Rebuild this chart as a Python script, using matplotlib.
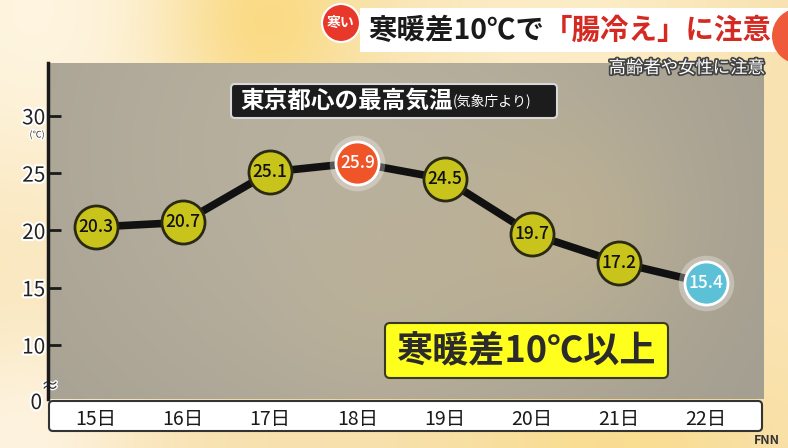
import matplotlib
matplotlib.use('Agg')
import matplotlib.pyplot as plt
import matplotlib.patheffects as pe
from matplotlib.patches import FancyBboxPatch, Circle, Rectangle
import numpy as np

plt.rcParams['font.family'] = ['Noto Sans CJK JP', 'DejaVu Sans']

# data
days = ['15日', '16日', '17日', '18日', '19日', '20日', '21日', '22日']
temps = [20.3, 20.7, 25.1, 25.9, 24.5, 19.7, 17.2, 15.4]
point_kind = ['mid', 'mid', 'mid', 'hot', 'mid', 'mid', 'mid', 'cold']
y_ticks = [10, 15, 20, 25, 30]

W, H = 788, 448
fig = plt.figure(figsize=(7.88, 4.48), dpi=100)

# background layer in pixel coords
bg = fig.add_axes([0, 0, 1, 1])
bg.set_xlim(0, W)
bg.set_ylim(H, 0)
bg.axis('off')


def soft_image(w, h, base, spots, x0=0, y0=0):
    yy, xx = np.mgrid[0:h, 0:w]
    xx = xx + x0
    yy = yy + y0
    img = np.ones((h, w, 3)) * np.array(base)
    for cx, cy, r, col, a in spots:
        m = a * np.exp(-((xx - cx) ** 2 + (yy - cy) ** 2) / (2.0 * r * r))
        img = img * (1 - m[..., None]) + np.array(col) * m[..., None]
    return np.clip(img, 0, 1)


back = soft_image(W, H, (0.97, 0.88, 0.68), [
    (40, 10, 160, (1.0, 0.97, 0.90), 0.9),
    (270, 20, 70, (0.98, 0.84, 0.45), 0.8),
    (560, 30, 120, (1.0, 0.95, 0.82), 0.7),
    (20, 440, 90, (1.0, 0.97, 0.92), 0.8),
    (620, 445, 110, (0.98, 0.86, 0.52), 0.7),
    (780, 300, 80, (0.99, 0.90, 0.72), 0.6),
])
bg.imshow(back, extent=[0, W, H, 0], aspect='auto', zorder=0)

# grey panel
pl, pr, pt, pb = 48, 764, 63, 399
panel = soft_image(pr - pl, pb - pt, (0.63, 0.61, 0.56), [
    (330, 150, 260, (0.73, 0.70, 0.63), 0.9),
    (560, 230, 90, (0.78, 0.72, 0.56), 0.5),
    (380, 300, 80, (0.76, 0.71, 0.58), 0.4),
], x0=pl, y0=pt)
bg.imshow(panel, extent=[pl, pr, pb, pt], aspect='auto', zorder=1)

# title banner
bg.add_patch(Rectangle((360, 8), 428, 44, fc='white', ec='none', zorder=2))
bg.add_patch(Circle((800, 36), 28, fc='#ee5a3a', ec='none', zorder=3))
bg.add_patch(Circle((341, 23), 19, fc='#e8382c', ec='white', lw=1.5, zorder=4))
bg.text(341, 23, '寒い', color='white', fontsize=10, fontweight='bold',
        ha='center', va='center', zorder=5)
t1 = bg.text(368, 31, '寒暖差10℃で', color='#1a1a1a', fontsize=20.5,
             fontweight='bold', ha='left', va='center', zorder=5)
bg.annotate('「腸冷え」に注意', xy=(1, 0.5), xycoords=t1, color='#d42a22',
            fontsize=20.5, fontweight='bold', ha='left', va='center', zorder=5)
bg.text(765, 68, '高齢者や女性に注意', color='white', fontsize=12.5,
        ha='right', va='center', zorder=5,
        path_effects=[pe.withStroke(linewidth=2.5, foreground='#444444')])

# main axes
ax = fig.add_axes([pl / W, 1 - pb / H, (pr - pl) / W, (pb - pt) / H])
ax.patch.set_alpha(0)
ax.set_xlim(-0.551, 7.666)
ax.set_ylim(5.29, 34.61)
for s in ['top', 'right', 'bottom']:
    ax.spines[s].set_visible(False)
ax.spines['left'].set_color('#1a1a1a')
ax.spines['left'].set_linewidth(2.5)
ax.set_yticks(y_ticks)
ax.set_yticklabels([str(v) for v in y_ticks])
ax.tick_params(axis='y', direction='in', length=9, width=2, color='#1a1a1a',
               pad=2, labelsize=15, labelcolor='#222222')
for lab in ax.get_yticklabels():
    lab.set_path_effects([pe.withStroke(linewidth=3, foreground='white')])
ax.set_xticks(range(len(days)))
ax.set_xticklabels(days)
ax.tick_params(axis='x', length=0, pad=7, labelsize=14, labelcolor='#1a1a1a')
for lab in ax.get_xticklabels():
    lab.set_zorder(10)

# white strip behind x labels
strip = FancyBboxPatch((49, 401), 713, 30, boxstyle='round,pad=0,rounding_size=4',
                       fc='white', ec='#333333', lw=1.5, zorder=6)
bg.add_patch(strip)

bg.text(42, 403, '0', color='#222222', fontsize=15, ha='right', va='center', zorder=7,
        path_effects=[pe.withStroke(linewidth=3, foreground='white')])
bg.text(50, 387, '≈', color='#333333', fontsize=13, ha='center', va='center', zorder=7,
        path_effects=[pe.withStroke(linewidth=2, foreground='white')])
bg.text(37, 135, '(℃)', color='#333333', fontsize=6.5, ha='center', va='center', zorder=7,
        path_effects=[pe.withStroke(linewidth=2, foreground='white')])

# header label
bg.add_patch(FancyBboxPatch((231, 84), 326, 34, boxstyle='round,pad=0,rounding_size=4',
                            fc='#1c1c1c', ec='#d8d8d8', lw=1.5, zorder=6))
h1 = bg.text(240, 101, '東京都心の最高気温', color='white', fontsize=17,
             fontweight='bold', ha='left', va='center', zorder=7)
bg.annotate('(気象庁より)', xy=(1, 0.5), xycoords=h1, color='white',
            fontsize=10, ha='left', va='center', zorder=7)

# yellow callout
bg.add_patch(FancyBboxPatch((385, 323), 283, 55, boxstyle='round,pad=0,rounding_size=5',
                            fc='#ffff1e', ec='#3a3a22', lw=1.5, zorder=6))
bg.text(526, 351, '寒暖差10℃以上', color='#2b2b2b', fontsize=26,
        fontweight='bold', ha='center', va='center', zorder=7)

bg.text(754, 440, 'FNN', color='#333333', fontsize=9, fontweight='bold',
        ha='left', va='center', zorder=7)

# line and points
xs = list(range(len(temps)))
ax.plot(xs, temps, color='#111111', lw=5.5, zorder=3, solid_capstyle='round')
styles = {
    'mid': ('#c9c41c', '#2a2a12', '#111111'),
    'hot': ('#f0552a', 'white', 'white'),
    'cold': ('#5cc0d7', 'white', 'white'),
}
for x, v, k in zip(xs, temps, point_kind):
    fc, ec, tc = styles[k]
    if k != 'mid':
        ax.plot(x, v, 'o', ms=40, color='white', alpha=0.3, mec='none', zorder=4)
    ax.plot(x, v, 'o', ms=31, mfc=fc, mec=ec, mew=2, zorder=5)
    ax.text(x, v, f'{v:.1f}', color=tc, fontsize=12.5, fontweight='medium',
            ha='center', va='center', zorder=6)

fig.savefig('out.png', dpi=100)
